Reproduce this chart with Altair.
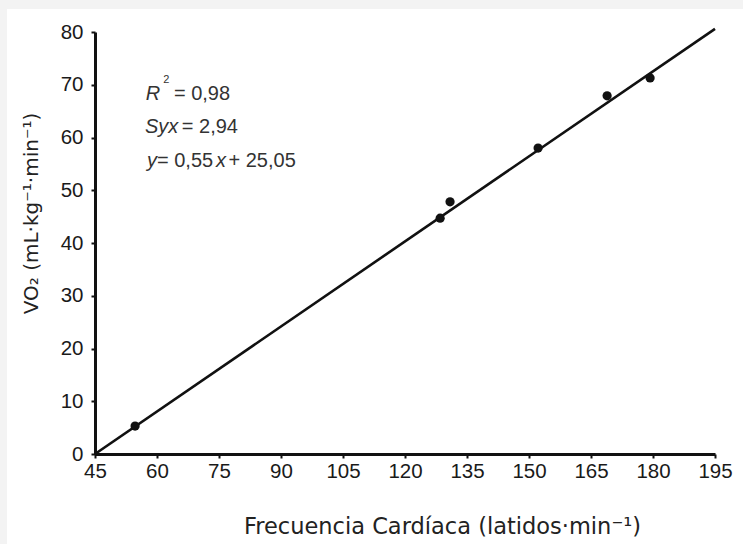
import altair as alt
import pandas as pd

# Observed points (heart rate vs VO2)
hr = [54.7, 128.5, 130.9, 152.2, 168.9, 179.3]
vo2 = [5.3, 44.7, 47.8, 58.0, 67.9, 71.3]

# Fitted line endpoints (as drawn)
line_x = [45, 195]
line_y = [0, 80.6]

# Annotation segments
ann_text = ["R", "2", "= 0,98", "Syx", "= 2,94", "y", "= 0,55", "x", "+ 25,05"]
ann_x = [57.3, 61.5, 64.1, 57.1, 66.0, 57.6, 60.0, 74.3, 77.3]
ann_y = [67.1, 70.4, 67.1, 60.85, 60.85, 54.4, 54.4, 54.4, 54.4]
ann_style = ["italic", "normal", "normal", "italic", "normal", "italic", "normal", "italic", "normal"]
ann_size = [20, 11, 20, 20, 20, 20, 20, 20, 20]

x_minor = [45 + 7.5 * i for i in range(21)]
y_minor = list(range(0, 85, 5))

pts = pd.DataFrame({"hr": hr, "vo2": vo2})
ln = pd.DataFrame({"hr": line_x, "vo2": line_y})
ann = pd.DataFrame({"t": ann_text, "hr": ann_x, "vo2": ann_y, "st": ann_style, "sz": ann_size})

xscale = alt.Scale(domain=[45, 195], nice=False, zero=False)
yscale = alt.Scale(domain=[0, 80], nice=False)

xaxis = alt.Axis(
    values=x_minor,
    labelExpr="datum.value % 15 === 0 ? datum.label : ''",
    title="Frecuencia Cardíaca (latidos·min⁻¹)",
    titleFont="DejaVu Sans", titleFontSize=22.5, titleFontWeight="normal", titleColor="#222",
    titleX=347, titleY=79, titleBaseline="alphabetic", titleAlign="center",
    labelFont="Liberation Sans", labelFontSize=20.5, labelColor="#1a1a1a",
    labelPadding=3, tickSize=4, tickWidth=2, tickColor="#111",
    domainColor="#111", domainWidth=3, grid=False, labelFlush=False,
    labelOverlap=False, zindex=1,
)
yaxis = alt.Axis(
    values=y_minor,
    labelExpr="datum.value % 10 === 0 ? datum.label : ''",
    title="VO₂ (mL·kg⁻¹·min⁻¹)",
    titleFont="DejaVu Sans", titleFontSize=20, titleFontWeight="normal", titleColor="#222",
    titleX=-64, titleY=181, titleAngle=-90, titleAlign="center", titleBaseline="middle",
    labelFont="Liberation Sans", labelFontSize=20.5, labelColor="#1a1a1a",
    labelPadding=8, tickSize=4, tickWidth=2, tickColor="#111",
    domainColor="#111", domainWidth=3, grid=False, labelFlush=False,
    labelOverlap=False, zindex=1,
)

bg = alt.Chart(pd.DataFrame({"a": [1]})).mark_rect(fill="white", clip=False).encode(
    x=alt.value(-88), x2=alt.value(660), y=alt.value(-23), y2=alt.value(530)
)

line = alt.Chart(ln).mark_line(color="#111", strokeWidth=2.6, clip=False).encode(
    x=alt.X("hr:Q", scale=xscale, axis=xaxis),
    y=alt.Y("vo2:Q", scale=yscale, axis=yaxis),
)

points = alt.Chart(pts).mark_circle(color="#111", size=85, opacity=1).encode(
    x=alt.X("hr:Q", scale=xscale),
    y=alt.Y("vo2:Q", scale=yscale),
)

def text_layer(style):
    return alt.Chart(ann).transform_filter(
        alt.datum.st == style
    ).mark_text(
        align="left", baseline="alphabetic", font="Liberation Sans", color="#333",
        fontStyle=style,
    ).encode(
        x=alt.X("hr:Q", scale=xscale),
        y=alt.Y("vo2:Q", scale=yscale),
        text="t:N",
        size=alt.Size("sz:Q", scale=None, legend=None),
    )

chart = alt.layer(bg, line, points, text_layer("italic"), text_layer("normal")).properties(
    width=620, height=422,
    autosize=alt.AutoSizeParams(type="none"),
    padding={"left": 95, "top": 32, "right": 28, "bottom": 90},
    background="#f3f3f3",
).configure_view(stroke=None)

chart.save("out.html", embed_options={"renderer": "svg", "actions": False})
